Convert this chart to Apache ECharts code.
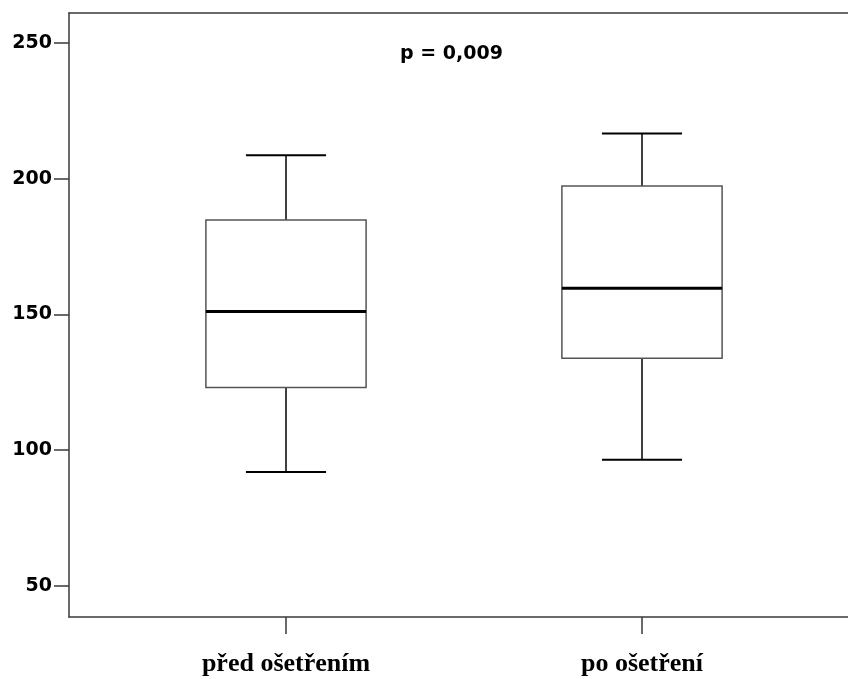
<!DOCTYPE html>
<html>
<head>
<meta charset="utf-8">
<script src="https://cdn.jsdelivr.net/npm/echarts@6/dist/echarts.min.js"></script>
<style>
  html, body { margin: 0; padding: 0; background: #fff; }
  #chart { width: 848px; height: 679px; }
</style>
</head>
<body>
<div id="chart"></div>
<script>
// values
const categories = ['před ošetřením', 'po ošetření'];
const whiskerLow = [91.9, 96.4];
const quartile1 = [123.0, 133.8];
const medians = [151.0, 159.6];
const quartile3 = [184.7, 197.3];
const whiskerHigh = [208.6, 216.6];
const yTicks = [50, 100, 150, 200, 250];
const pValueText = 'p = 0,009';

const yMin = 38.5;
const yMax = 261;

const boxRows = categories.map((c, i) => [
  i, whiskerLow[i], quartile1[i], medians[i], quartile3[i], whiskerHigh[i]
]);

const chart = echarts.init(document.getElementById('chart'));

const frameLine = { show: true, lineStyle: { color: '#3a3a3a', width: 1.5 } };
const numFont = { fontFamily: 'DejaVu Sans', fontWeight: 'bold', fontSize: 19, color: '#000' };

const option = {
  backgroundColor: '#fff',
  animation: false,
  grid: [
    { left: 69, right: 0, top: 13, bottom: 62 },
    { left: 108, width: 712, top: 13, bottom: 62 }
  ],
  xAxis: [
    {
      gridIndex: 0, type: 'value', min: 0, max: 1, position: 'bottom',
      axisLine: frameLine, axisTick: { show: false }, axisLabel: { show: false },
      splitLine: { show: false }
    },
    {
      gridIndex: 0, type: 'value', min: 0, max: 1, position: 'top',
      axisLine: frameLine, axisTick: { show: false }, axisLabel: { show: false },
      splitLine: { show: false }
    },
    {
      gridIndex: 1, type: 'category', data: categories, position: 'bottom',
      axisLine: { show: false },
      axisTick: { show: true, alignWithLabel: true, length: 17, lineStyle: { color: '#3a3a3a', width: 1.5 } },
      axisLabel: {
        margin: 34,
        fontFamily: 'Liberation Serif', fontWeight: 'bold', fontSize: 26, color: '#000'
      },
      splitLine: { show: false }
    }
  ],
  yAxis: [
    {
      gridIndex: 0, type: 'value', min: yMin, max: yMax,
      axisLine: frameLine,
      axisTick: { show: true, length: 15, customValues: yTicks, lineStyle: { color: '#3a3a3a', width: 1.5 } },
      axisLabel: Object.assign({ margin: 17, customValues: yTicks }, numFont),
      splitLine: { show: false }
    },
    {
      gridIndex: 1, type: 'value', min: yMin, max: yMax, show: false
    }
  ],
  graphic: [
    {
      type: 'text', left: 400, top: 45,
      style: { text: pValueText, font: 'bold 19px "DejaVu Sans"', fill: '#000' }
    }
  ],
  series: [
    {
      type: 'custom',
      xAxisIndex: 2,
      yAxisIndex: 1,
      data: boxRows,
      encode: { x: 0, y: [1, 2, 3, 4, 5] },
      renderItem: function (params, api) {
        const i = api.value(0);
        const lo = api.coord([i, api.value(1)]);
        const q1 = api.coord([i, api.value(2)]);
        const md = api.coord([i, api.value(3)]);
        const q3 = api.coord([i, api.value(4)]);
        const hi = api.coord([i, api.value(5)]);
        const band = api.size([1, 0])[0];
        const half = band * 0.225;
        const cap = band * 0.1125;
        const cx = lo[0];
        const whisk = { stroke: '#000', lineWidth: 1.5 };
        return {
          type: 'group',
          children: [
            { type: 'line', shape: { x1: cx, y1: q3[1], x2: cx, y2: hi[1] }, style: whisk },
            { type: 'line', shape: { x1: cx, y1: q1[1], x2: cx, y2: lo[1] }, style: whisk },
            { type: 'line', shape: { x1: cx - cap, y1: hi[1], x2: cx + cap, y2: hi[1] }, style: { stroke: '#000', lineWidth: 2 } },
            { type: 'line', shape: { x1: cx - cap, y1: lo[1], x2: cx + cap, y2: lo[1] }, style: { stroke: '#000', lineWidth: 2 } },
            {
              type: 'rect',
              shape: { x: cx - half, y: q3[1], width: half * 2, height: q1[1] - q3[1] },
              style: { fill: '#fff', stroke: '#555', lineWidth: 1.5 }
            },
            { type: 'line', shape: { x1: cx - half, y1: md[1], x2: cx + half, y2: md[1] }, style: { stroke: '#000', lineWidth: 3 } }
          ]
        };
      }
    }
  ]
};

chart.setOption(option);
window.addEventListener('resize', () => chart.resize());
</script>
</body>
</html>
